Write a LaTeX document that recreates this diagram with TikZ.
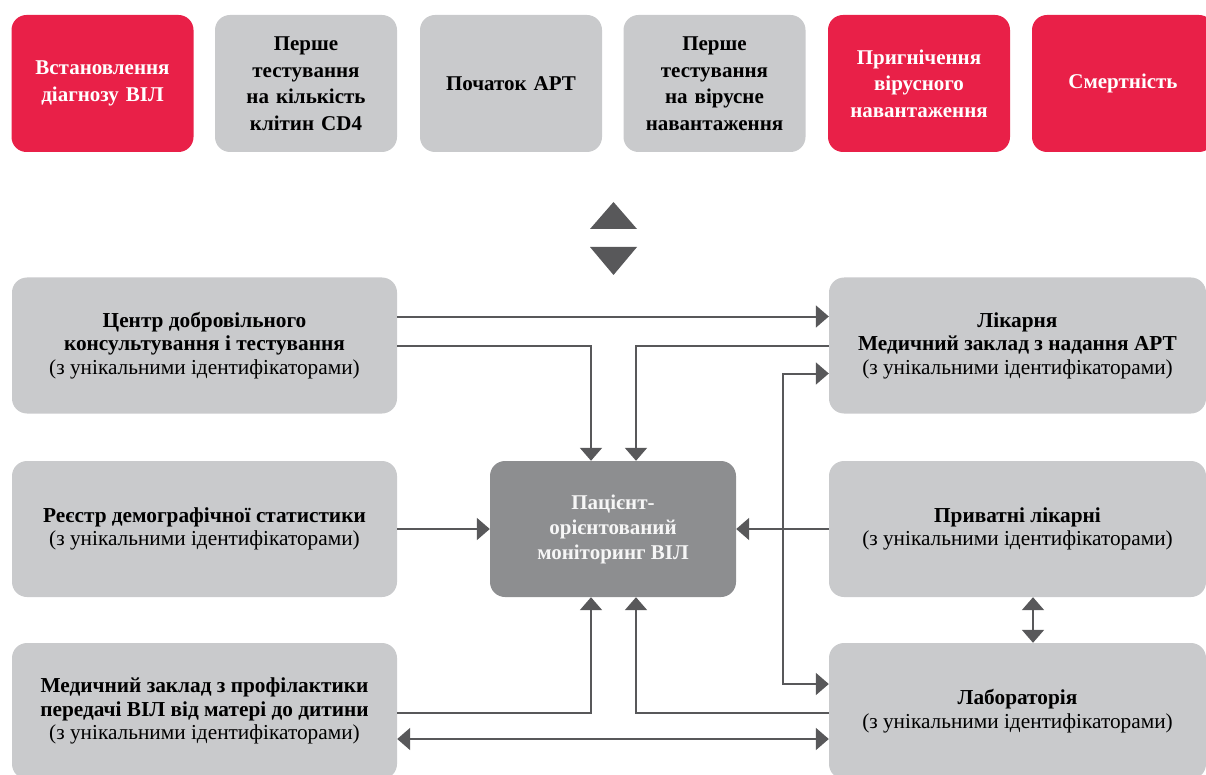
\documentclass[tikz,border=0pt]{standalone}
\usepackage{fontspec}
\setmainfont{Liberation Serif}
\usepackage{tikz}
\usetikzlibrary{arrows.meta, positioning}
\definecolor{vilred}{RGB}{233,32,72}
\definecolor{boxgray}{RGB}{201,202,204}
\definecolor{hubgray}{RGB}{141,142,144}
\definecolor{linegray}{RGB}{88,88,90}
\tikzstyle{link}    = [draw=linegray, line width=2pt, -{Triangle[length=13pt,width=22pt]}]
\tikzstyle{dlink}   = [link, {Triangle[length=13pt,width=22pt]}-{Triangle[length=13pt,width=22pt]}]
\tikzstyle{topbox}  = [rectangle, rounded corners=15pt, minimum width=182pt, minimum height=137pt, inner sep=0pt, text width=176pt, font=\fontsize{21}{26.5}\selectfont\bfseries]
\tikzstyle{redbox}  = [topbox, fill=vilred, text=white]
\tikzstyle{graybox} = [topbox, fill=boxgray, text=black]
\tikzstyle{srcbox}  = [rectangle, rounded corners=15pt, fill=boxgray, minimum height=136pt, inner sep=0pt, font=\fontsize{21.3}{23.5}\selectfont]
\tikzstyle{hubbox}  = [rectangle, rounded corners=15pt, fill=hubgray, minimum width=246pt, minimum height=136pt, inner sep=0pt, text=white!93!gray, font=\fontsize{21}{25}\selectfont\bfseries]
\tikzset{every node/.style={align=center}}

\begin{document}
\begin{tikzpicture}[x=1pt, y=-1pt]
  \useasboundingbox (0,0) rectangle (1206,775);

  % Cascade of care (top row)
  \foreach \nm/\x/\sty/\txt in {diag/102.5/redbox/{Встановлення\\діагнозу ВІЛ},
      cdfour/306/graybox/{Перше\\тестування\\на кількість\\клітин CD4},
      artstart/511/graybox/{Початок АРТ},
      vload/714.5/graybox/{Перше\\тестування\\на вірусне\\навантаження},
      supp/919/redbox/{Пригнічення\\вірусного\\навантаження},
      death/1123/redbox/{Смертність}}
      \node[\sty] (\nm) at (\x,83.5) {\txt};

  % up / down marker
  \fill[linegray] (590,229) -- (613.5,202) -- (637,229) -- cycle;
  \fill[linegray] (590,247) -- (637,247) -- (613.5,275) -- cycle;

  % Central monitoring system
  \node[hubbox] (hub) at (613,529) {Пацієнт-\\орієнтований\\моніторинг ВІЛ};

  % Data sources, left
  \node[srcbox, minimum width=385pt] (vct) at (204.5,345.5)
      {\textbf{Центр добровільного}\\\textbf{консультування і тестування}\\(з унікальними ідентифікаторами)};
  \node[srcbox, minimum width=385pt] (reg) at (204.5,529)
      {\textbf{Реєстр демографічної статистики}\\(з унікальними ідентифікаторами)};
  \node[srcbox, minimum width=385pt] (pmtct) at (204.5,711)
      {\textbf{Медичний заклад з профілактики}\\\textbf{передачі ВІЛ від матері до дитини}\\(з унікальними ідентифікаторами)};

  % Data sources, right
  \node[srcbox, minimum width=377pt] (hosp) at (1017.5,345.5)
      {\textbf{Лікарня}\\\textbf{Медичний заклад з надання АРТ}\\(з унікальними ідентифікаторами)};
  \node[srcbox, minimum width=377pt] (priv) at (1017.5,529)
      {\textbf{Приватні лікарні}\\(з унікальними ідентифікаторами)};
  \node[srcbox, minimum width=377pt] (lab) at (1017.5,711)
      {\textbf{Лабораторія}\\(з унікальними ідентифікаторами)};

  % Connectors
  \coordinate (vcttop) at ([yshift=29pt]vct.east);
  \draw[link] (vcttop) -- (vcttop -| hosp.west);
  \draw[link] (vct.east) -| ([xshift=-22pt]hub.north);
  \draw[link] (hosp.west) -| ([xshift=23pt]hub.north);
  \coordinate (hosplow) at ([yshift=-28pt]hosp.west);
  \coordinate (labtop) at ([yshift=27pt]lab.west);
  \draw[dlink] (hosplow) -- ++(-46,0) |- (labtop);
  \draw[link] (reg.east) -- (hub.west);
  \draw[link] (priv.west) -- (hub.east);
  \coordinate (pmtctmid) at ([yshift=-2pt]pmtct.east);
  \draw[link] (pmtctmid) -| ([xshift=-22pt]hub.south);
  \coordinate (labmid) at ([yshift=-2pt]lab.west);
  \draw[link] (labmid) -| ([xshift=23pt]hub.south);
  \coordinate (pmtctlow) at ([yshift=-28pt]pmtct.east);
  \draw[dlink] (pmtctlow) -- (pmtctlow -| lab.west);
  \draw[dlink] ([xshift=15.5pt]priv.south) -- ([xshift=15.5pt]lab.north);
\end{tikzpicture}
\end{document}
